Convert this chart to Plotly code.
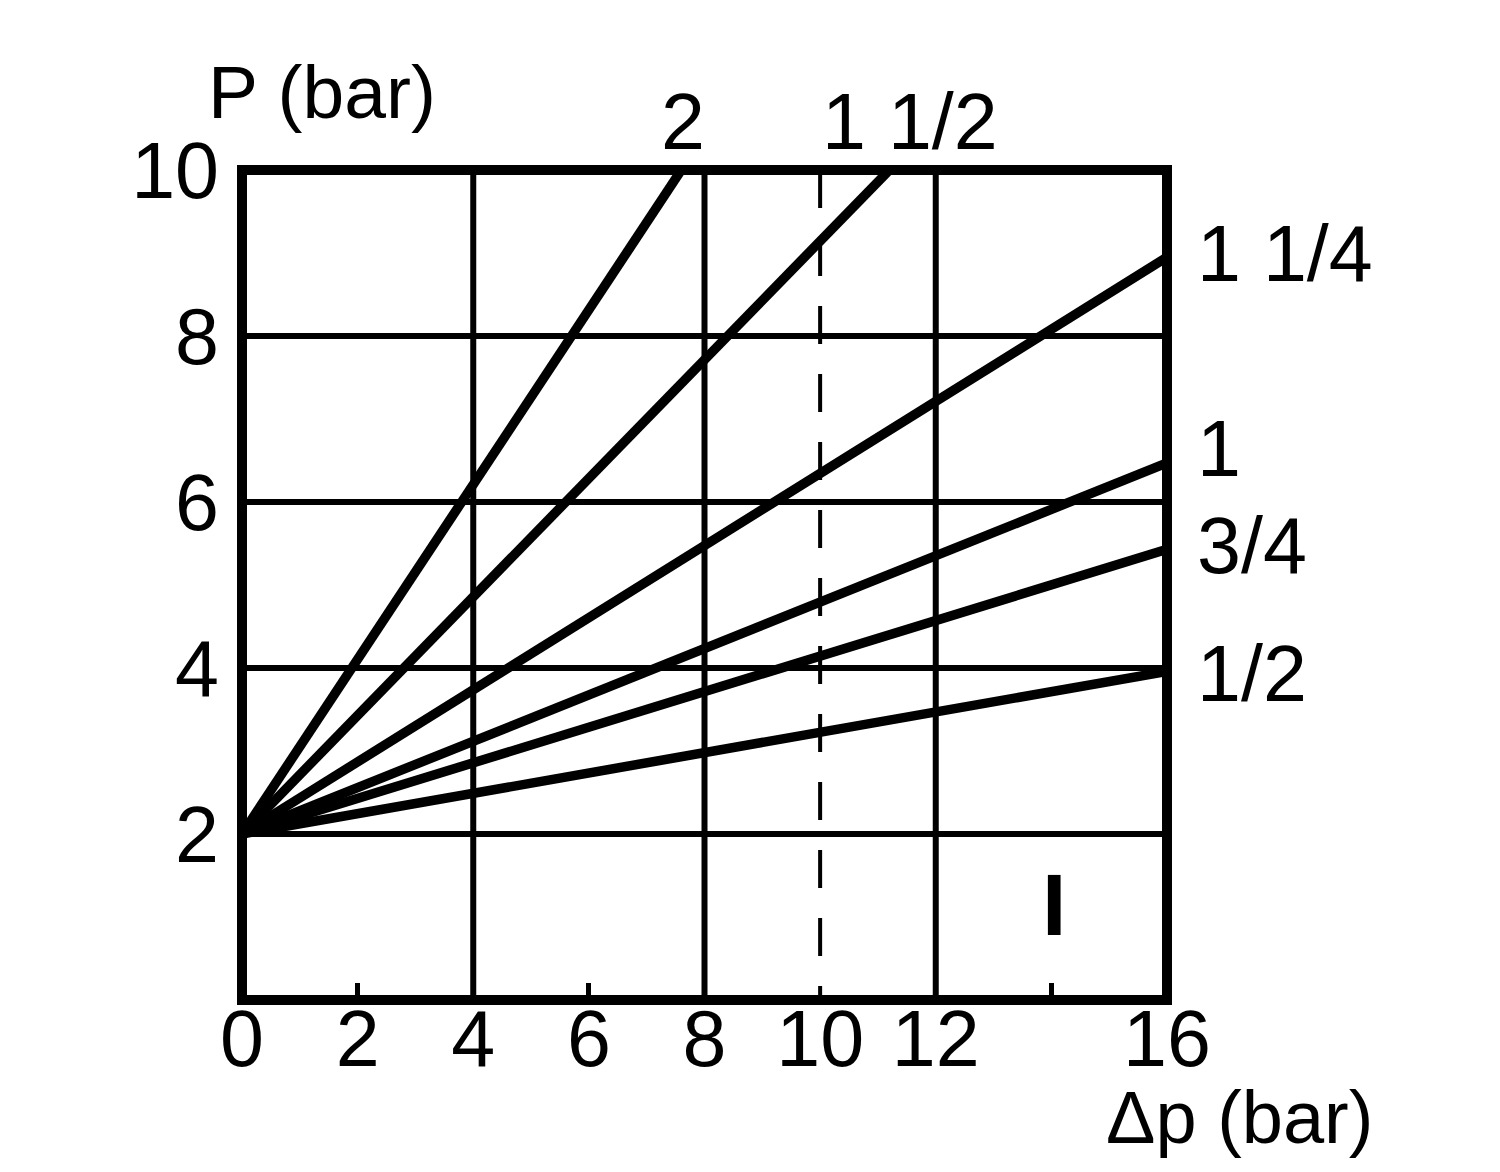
import plotly.graph_objects as go

# ---- data ----
SIZES = ["1/2", "3/4", "1", "1 1/4", "1 1/2", "2"]
START_DP = 0.0
START_P = 2.0
END_DP = [16.0, 16.0, 16.0, 16.0, 11.2, 7.6]
END_P = [3.96, 5.43, 6.47, 8.95, 10.0, 10.0]

X_TICKS = [0, 2, 4, 6, 8, 10, 12, 16]
X_TICK_TEXT = ["0", "2", "4", "6", "8", "10", "12", "16"]
X_MINOR = [2, 6, 14]
X_GRID = [4, 8, 12]
X_DASHED = [10]
Y_TICKS = [2, 4, 6, 8, 10]
Y_TICK_TEXT = ["2", "4", "6", "8", "10"]

# label positions (paper coords, outside the plot area)
TOP_LABELS = {"2": 0.4768, "1 1/2": 0.7222}
TOP_LABEL_Y = 1.058
RIGHT_LABEL_X = 1.030
RIGHT_LABELS = {"1 1/4": 0.8988, "1": 0.6639, "3/4": 0.5470, "1/2": 0.3928}

FONT = "Liberation Sans, Arial, Helvetica, sans-serif"
FS = 79

fig = go.Figure()
for name, xe, ye in zip(SIZES, END_DP, END_P):
    fig.add_trace(go.Scatter(x=[START_DP, xe], y=[START_P, ye], mode="lines",
                             line=dict(color="black", width=9.5), name=name,
                             showlegend=False, hoverinfo="skip"))

shapes = []
for gx in X_GRID:
    shapes.append(dict(type="line", xref="x", yref="y", x0=gx, x1=gx, y0=0, y1=10,
                       line=dict(color="black", width=6), layer="below"))
for dx in X_DASHED:
    shapes.append(dict(type="line", xref="x", yref="y", x0=dx, x1=dx, y0=10, y1=0,
                       line=dict(color="black", width=4, dash="38px,30px"), layer="below"))
shapes.append(dict(type="rect", xref="paper", yref="paper", x0=0, x1=1, y0=0, y1=1,
                   line=dict(color="black", width=10), layer="above"))

annotations = []
for txt, xv in TOP_LABELS.items():
    annotations.append(dict(x=xv, y=TOP_LABEL_Y, xref="paper", yref="paper", text=txt,
                            showarrow=False, xanchor="center", yanchor="middle",
                            font=dict(family=FONT, size=FS, color="black")))
for txt, yv in RIGHT_LABELS.items():
    annotations.append(dict(x=RIGHT_LABEL_X, y=yv, xref="paper", yref="paper", text=txt,
                            showarrow=False, xanchor="left", yanchor="middle",
                            font=dict(family=FONT, size=FS, color="black")))
annotations.append(dict(x=0.0865, y=1.094, xref="paper", yref="paper", text="P (bar)",
                        showarrow=False, xanchor="center", yanchor="middle",
                        font=dict(family=FONT, size=75, color="black")))
annotations.append(dict(x=1.0789, y=-0.1410, xref="paper", yref="paper", text="Δp (bar)",
                        showarrow=False, xanchor="center", yanchor="middle",
                        font=dict(family=FONT, size=74, color="black")))
annotations.append(dict(x=14.05, y=1.15, xref="x", yref="y", text="<b>I</b>", showarrow=False,
                        xanchor="center", yanchor="middle",
                        font=dict(family=FONT, size=88, color="black")))

fig.update_layout(
    width=1500, height=1172,
    margin=dict(l=234, r=341, t=162, b=180, autoexpand=False),
    paper_bgcolor="white", plot_bgcolor="white",
    font=dict(family=FONT, size=FS, color="black"),
    shapes=shapes, annotations=annotations, showlegend=False,
    xaxis=dict(range=[0, 16], tickmode="array", tickvals=X_TICKS, ticktext=X_TICK_TEXT,
               showgrid=False, zeroline=False, showline=False, ticks="",
               ticklabelstandoff=-14, automargin=False,
               tickfont=dict(family=FONT, size=FS, color="black"),
               minor=dict(tickmode="array", tickvals=X_MINOR, ticks="inside", ticklen=17,
                          tickwidth=5, tickcolor="black", showgrid=False)),
    yaxis=dict(range=[0, 10], tickmode="array", tickvals=Y_TICKS, ticktext=Y_TICK_TEXT,
               showgrid=True, gridcolor="black", gridwidth=6, zeroline=False,
               showline=False, ticks="", ticklabelstandoff=22, automargin=False,
               tickfont=dict(family=FONT, size=FS, color="black")),
)

fig.write_html("out.html")
